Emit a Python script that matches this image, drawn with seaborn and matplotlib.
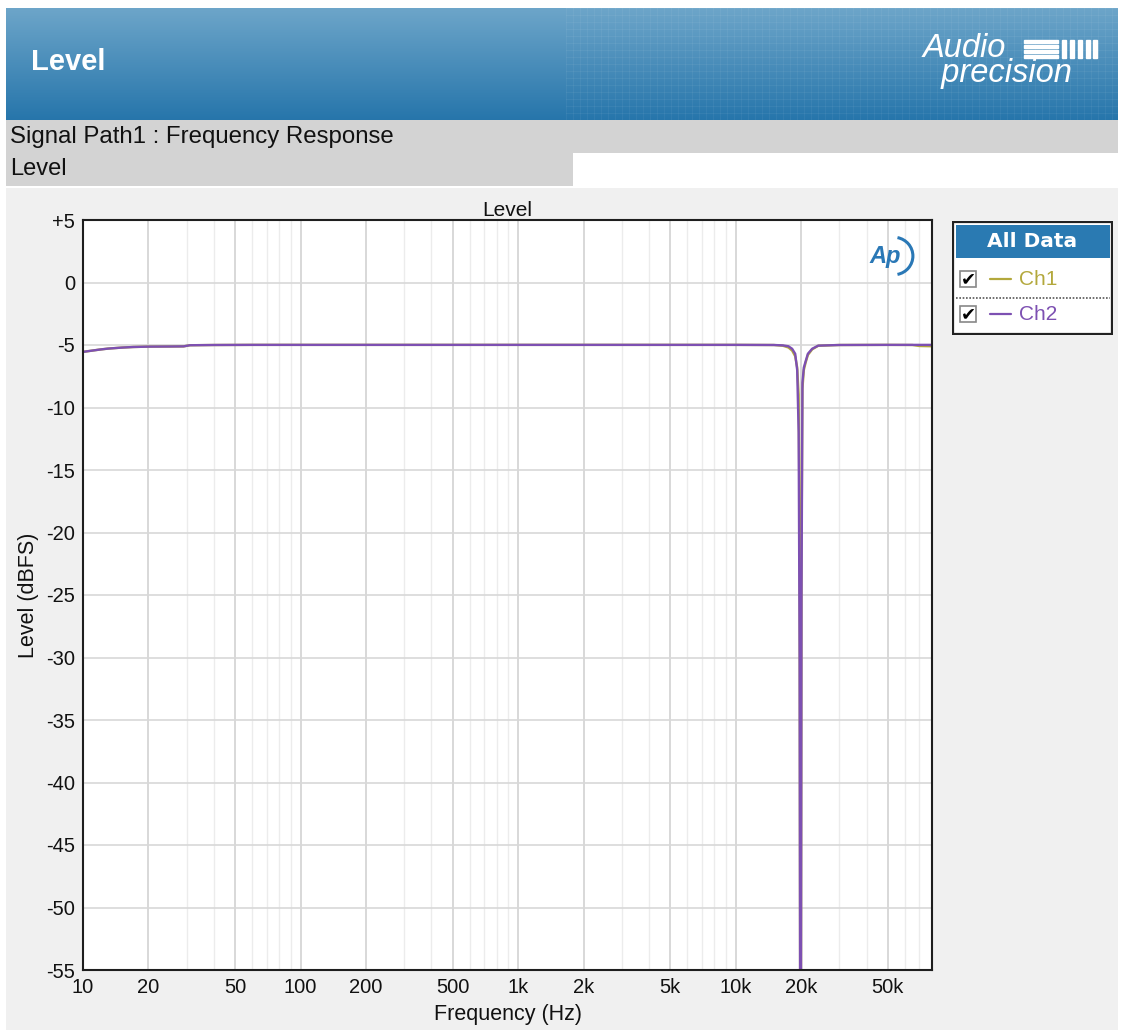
import numpy as np
import pandas as pd
import matplotlib
matplotlib.use("Agg")
import matplotlib.pyplot as plt
import seaborn as sns
from matplotlib.patches import Rectangle, Arc
from matplotlib.ticker import FixedLocator, LogLocator, NullFormatter

# ---- measured frequency response (dBFS) ----
freq_hz = [10, 11, 12, 13, 15, 17, 20, 25, 29, 31, 40, 60, 100, 200, 500, 1000,
           2000, 5000, 10000, 15000, 16500, 17500, 18200, 18800, 19200, 19500,
           19700, 19850, 19950, 20100, 20300, 20600, 21000, 21500, 22500, 24000,
           30000, 50000, 65000, 70000, 80000]
ch1_dbfs = [-5.55, -5.45, -5.36, -5.29, -5.21, -5.16, -5.13, -5.12, -5.11, -5.02,
            -5.0, -4.99, -4.99, -4.99, -4.99, -4.99, -4.99, -4.99, -4.99, -5.0,
            -5.06, -5.2, -5.45, -5.9, -6.8, -9.0, -20.0, -70.0, -70.0, -22.0,
            -8.5, -7.0, -6.4, -5.8, -5.35, -5.06, -5.0, -4.99, -5.0, -5.08, -5.1]
ch2_dbfs = [-5.55, -5.45, -5.36, -5.29, -5.21, -5.16, -5.13, -5.12, -5.11, -5.02,
            -5.0, -4.99, -4.99, -4.99, -4.99, -4.99, -4.99, -4.99, -4.99, -5.0,
            -5.03, -5.1, -5.3, -5.7, -7.0, -12.0, -30.0, -70.0, -70.0, -25.0,
            -8.0, -6.8, -6.3, -5.7, -5.3, -5.05, -5.0, -4.99, -4.99, -4.99, -4.99]
channels = ["Ch1", "Ch2"]
channel_colors = ["#b3a83c", "#7d50b2"]

x_ticks = [10, 20, 50, 100, 200, 500, 1000, 2000, 5000, 10000, 20000, 50000]
x_tick_labels = ["10", "20", "50", "100", "200", "500", "1k", "2k", "5k",
                 "10k", "20k", "50k"]
y_ticks = [5, 0, -5, -10, -15, -20, -25, -30, -35, -40, -45, -50, -55]
y_tick_labels = ["+5", "0", "-5", "-10", "-15", "-20", "-25", "-30", "-35",
                 "-40", "-45", "-50", "-55"]

df = pd.concat([
    pd.DataFrame({"Frequency": freq_hz, "Level": ch1_dbfs, "Channel": channels[0]}),
    pd.DataFrame({"Frequency": freq_hz, "Level": ch2_dbfs, "Channel": channels[1]}),
], ignore_index=True)

sns.set_theme(style="white")
plt.rcParams["font.family"] = ["Liberation Sans", "DejaVu Sans"]

W, H = 1130, 1030
fig = plt.figure(figsize=(W / 100, H / 100), dpi=100)
fig.patch.set_facecolor("white")


def fax(x0, y0, x1, y1, **kw):
    """Axes placed by pixel box (top-left origin)."""
    return fig.add_axes([x0 / W, 1 - y1 / H, (x1 - x0) / W, (y1 - y0) / H], **kw)


def frect(x0, y0, x1, y1, color):
    fig.patches.append(Rectangle((x0 / W, 1 - y1 / H), (x1 - x0) / W, (y1 - y0) / H,
                                 transform=fig.transFigure, facecolor=color,
                                 edgecolor="none", zorder=-5))


# ---- page bands ----
frect(6, 188, 1118, 1030, "#f0f0f0")
frect(6, 120, 1118, 153, "#d3d3d3")
frect(6, 153, 573, 186, "#d3d3d3")
fig.text(10 / W, 1 - 137 / H, "Signal Path1 : Frequency Response", fontsize=17.3,
         va="center", ha="left", color="#111111")
fig.text(10 / W, 1 - 169 / H, "Level", fontsize=17, va="center", ha="left",
         color="#111111")

# ---- blue header ----
hax = fax(6, 8, 1118, 120)
grad = np.linspace(0, 1, 256)[:, None]
top = np.array([0.43, 0.65, 0.79])
bot = np.array([0.15, 0.46, 0.67])
img = top[None, None, :] * (1 - grad[..., None]) + bot[None, None, :] * grad[..., None]
img = np.repeat(img, 4, axis=1)
hax.imshow(img, aspect="auto", extent=[0, 1112, 112, 0])
for gx in np.arange(560, 1112, 7):
    hax.plot([gx, gx], [0, 112], color="white", alpha=0.05, lw=0.8)
for gy in np.arange(0, 112, 7):
    hax.plot([560, 1112], [gy, gy], color="white", alpha=0.05, lw=0.8)
hax.set_xlim(0, 1112)
hax.set_ylim(112, 0)
hax.axis("off")
hax.text(25, 54, "Level", color="white", fontsize=21, fontweight="bold",
         va="center", ha="left")
# brand mark: two stacked italic words plus bar block
hax.text(917, 53, "Audio\n  precision", color="white", fontsize=23.5, style="italic",
         va="center", ha="left", multialignment="left", linespacing=0.78)
for by in [32, 37, 42, 47]:
    hax.add_patch(Rectangle((1018, by), 34, 3.2, color="white"))
for bx in [1056, 1064, 1072, 1080, 1087]:
    hax.add_patch(Rectangle((bx, 32), 4, 18.2, color="white"))

# ---- main chart ----
ax = fax(83, 220, 932, 970)
ax.set_facecolor("white")
sns.lineplot(data=df, x="Frequency", y="Level", hue="Channel",
             palette=dict(zip(channels, channel_colors)), hue_order=channels,
             estimator=None, sort=False, linewidth=1.7, legend=False, ax=ax)
ax.set_xscale("log")
ax.set_xlim(10, 80000)
ax.set_ylim(-55, 5)
ax.xaxis.set_major_locator(FixedLocator(x_ticks))
ax.set_xticklabels(x_tick_labels)
ax.xaxis.set_minor_locator(LogLocator(base=10, subs=range(1, 10), numticks=20))
ax.xaxis.set_minor_formatter(NullFormatter())
ax.set_yticks(y_ticks)
ax.set_yticklabels(y_tick_labels)
ax.grid(which="minor", axis="x", color="#ececec", lw=1.0)
ax.grid(which="major", axis="x", color="#d2d2d2", lw=1.2)
ax.grid(which="major", axis="y", color="#d8d8d8", lw=1.2)
ax.set_axisbelow(True)
for s in ax.spines.values():
    s.set_color("#1e1e1e")
    s.set_linewidth(1.5)
ax.tick_params(axis="both", which="major", labelsize=14.5, length=0, pad=5.5,
               colors="#111111")
ax.tick_params(axis="x", which="minor", length=0)
ax.set_xlabel("Frequency (Hz)", fontsize=15.5, color="#111111", labelpad=5)
ax.set_ylabel("Level (dBFS)", fontsize=15.5, color="#111111", labelpad=5)
ax.set_title("Level", fontsize=15, color="#111111", pad=3)

# AP badge
ax.text(0.945, 0.952, "Ap", transform=ax.transAxes, fontsize=17, style="italic",
        fontweight="bold", color="#2a78b6", ha="center", va="center")
ax.add_patch(Arc((0.955, 0.952), 0.045, 0.05, theta1=-80, theta2=80,
                 transform=ax.transAxes, color="#2a78b6", lw=2.2))

# ---- channel legend ----
lax = fax(952, 221, 1113, 335)
lax.set_xlim(0, 161)
lax.set_ylim(114, 0)
lax.axis("off")
lax.add_patch(Rectangle((1, 1), 159, 112, facecolor="white", edgecolor="#222222", lw=1.6))
lax.add_patch(Rectangle((3.5, 3.5), 154, 33, facecolor="#2a7ab2", edgecolor="none"))
lax.text(80, 20, "All Data", color="white", fontsize=14.5, fontweight="bold",
         ha="center", va="center", family="DejaVu Sans")
lax.plot([3.5, 157.5], [77, 77], color="#555555", lw=1.2, ls=(0, (1, 1)))
for row_y, name, col in zip([58, 93], channels, channel_colors):
    lax.add_patch(Rectangle((8, row_y - 8), 16, 16, facecolor="white",
                            edgecolor="#888888", lw=1.2))
    lax.text(16, row_y + 0.5, "\u2714", fontsize=13, ha="center", va="center",
             color="black", family="DejaVu Sans")
    lax.plot([38, 59], [row_y, row_y], color=col, lw=1.6)
    lax.text(67, row_y, name, fontsize=15, color=col, ha="left", va="center")

fig.savefig("out.png", dpi=100)
